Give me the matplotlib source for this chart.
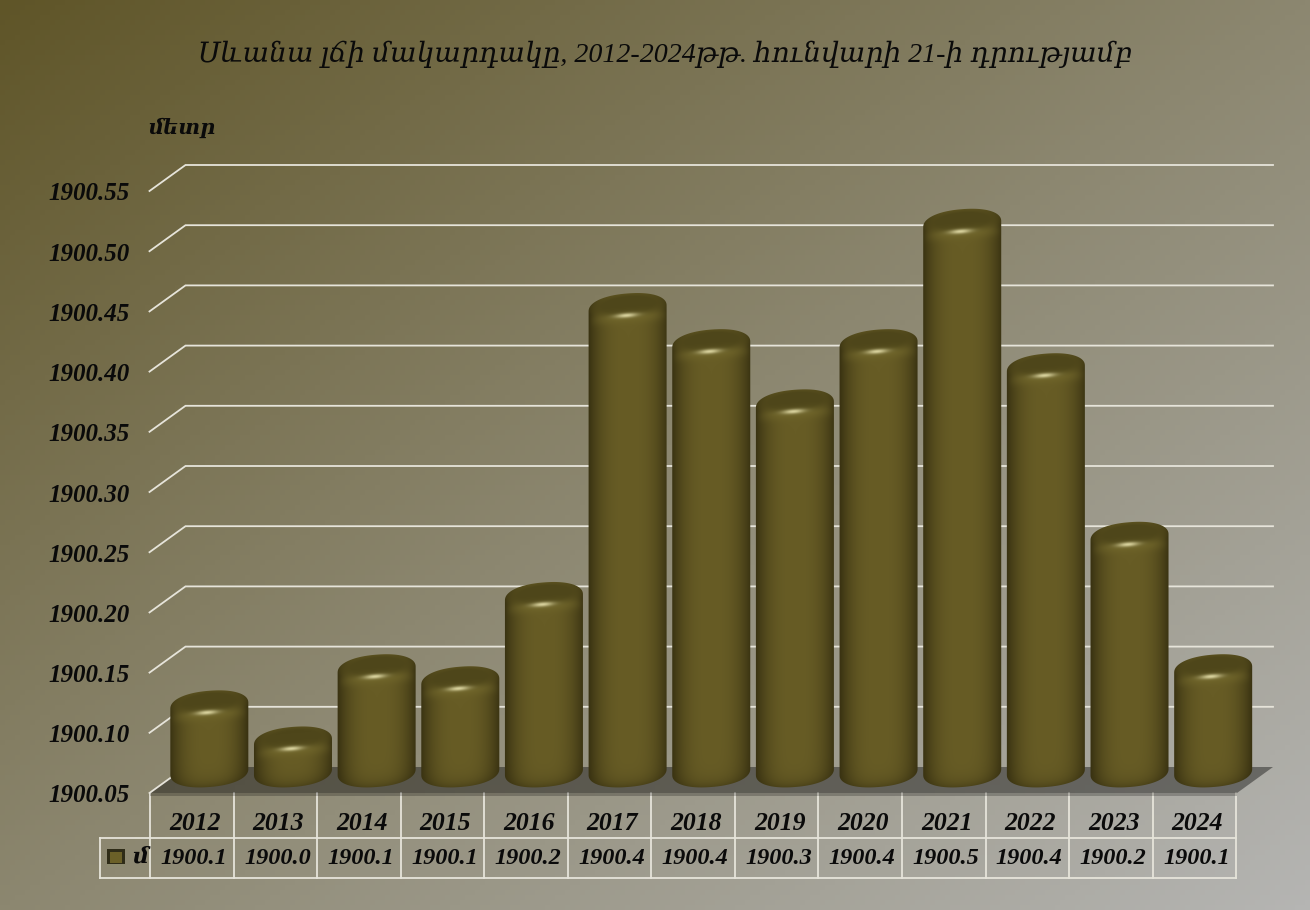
import numpy as np
import matplotlib
matplotlib.use("Agg")
import matplotlib.pyplot as plt
from matplotlib.colors import LinearSegmentedColormap, to_rgb
from matplotlib.patches import Polygon, PathPatch, Rectangle
from matplotlib.path import Path

years = ['2012', '2013', '2014', '2015', '2016', '2017', '2018', '2019', '2020', '2021', '2022', '2023', '2024']
levels = [1900.11, 1900.08, 1900.14, 1900.13, 1900.20, 1900.44, 1900.41, 1900.36, 1900.41, 1900.51, 1900.39, 1900.25, 1900.14]
table_row = ['1900.1', '1900.0', '1900.1', '1900.1', '1900.2', '1900.4', '1900.4', '1900.3', '1900.4', '1900.5', '1900.4', '1900.2', '1900.1']
y_ticks = [1900.05, 1900.10, 1900.15, 1900.20, 1900.25, 1900.30, 1900.35, 1900.40, 1900.45, 1900.50, 1900.55]

title = 'Սևանա լճի մակարդակը, 2012-2024թթ. հունվարի 21-ի դրությամբ'
unit_label = 'մետր'
series_name = 'մ'

W, H = 1310, 910
serif = ['Liberation Serif', 'DejaVu Serif']
line_col = '#e6e4da'

fig = plt.figure(figsize=(W / 100, H / 100), dpi=100)

# background, pixel coordinates
bg = fig.add_axes([0, 0, 1, 1])
bg.set_xlim(0, W)
bg.set_ylim(H, 0)
bg.axis('off')
cmap = LinearSegmentedColormap.from_list('bg', ['#5f5528', '#8c8770', '#b5b5b3'])
gx, gy = np.meshgrid(np.linspace(0, 1, 262), np.linspace(0, 1, 182))
bg.imshow((gx + gy) / 2, cmap=cmap, extent=(0, W, H, 0), aspect='auto', vmin=0, vmax=1, zorder=0)

# main axes: mid depth plane of the 3d box
left, right, bottom, top = 167.5, 1255.0, 780.0, 178.0
ax = fig.add_axes([left / W, 1 - bottom / H, (right - left) / W, (bottom - top) / H])
ax.patch.set_alpha(0)
ax.axis('off')
ax.set_xlim(-0.5, len(years) - 0.5)
ax.set_ylim(y_ticks[0], y_ticks[-1])

px_x = (len(years)) / (right - left)
px_y = (y_ticks[-1] - y_ticks[0]) / (bottom - top)
dx, dy = 18 * px_x, 13 * px_y
x0, x1 = -0.5, len(years) - 0.5

# floor
ax.add_patch(Polygon([(x0 - dx, y_ticks[0] - dy), (x0 + dx, y_ticks[0] + dy),
                      (x1 + dx, y_ticks[0] + dy), (x1 - dx, y_ticks[0] - dy)],
                     closed=True, facecolor='black', alpha=0.4, edgecolor='none', clip_on=False, zorder=1))
ax.add_patch(Rectangle((x0 - dx, y_ticks[0] - dy - 3 * px_y), x1 - x0, 3 * px_y, facecolor='black',
                       alpha=0.22, edgecolor='none', clip_on=False, zorder=1))

# grid lines on the side and back walls
for v in y_ticks:
    if v == y_ticks[0]:
        xs, ys = [x0 - dx, x0 + dx], [v - dy, v + dy]
    else:
        xs, ys = [x0 - dx, x0 + dx, x1 + dx], [v - dy, v + dy, v + dy]
    ax.plot(xs, ys, color=line_col, lw=1.3, clip_on=False, zorder=2, solid_joinstyle='miter')
    ax.annotate(f'{v:.2f}', xy=(x0 - dx, v - dy), xytext=(-20, -3), textcoords='offset pixels',
                ha='right', va='center', family=serif, style='italic', weight='bold', fontsize=18,
                color='#0a0a0a', annotation_clip=False)


def spow(a, p):
    return np.sign(a) * np.abs(a) ** p


def bar_outline(y_top, y_base, a=39.0, b=15.0, tilt=3.0, n=2.2):
    # outline in px relative to bar centre, y up
    t = np.linspace(0, np.pi, 80)
    tx = a * spow(np.cos(t), 2 / n)
    ty = y_top + b * spow(np.sin(t), 2 / n) + tilt * tx / a
    t2 = np.linspace(np.pi, 2 * np.pi, 80)
    bx = a * spow(np.cos(t2), 2 / n)
    by = y_base + b * spow(np.sin(t2), 2 / n) + tilt * bx / a
    return np.r_[tx, bx], np.r_[ty, by]


def bar_image(y_top, y_base, a=39.0, b=15.0, tilt=3.0, n=2.2):
    xs = np.arange(-41, 41.5, 0.5)
    ys = np.arange(y_top + 18, y_base - 18, -0.5)
    x, y = np.meshgrid(xs, ys)
    u = np.clip(np.abs(x) / a, 0, 1)
    dark = np.array(to_rgb('#3a3312'))
    light = np.array(to_rgb('#675c25'))
    prof = (1 - u ** 2.8)[..., None]
    img = dark + (light - dark) * prof
    yt = y - y_top - tilt * x / a
    # darker top surface
    d = (x / 36) ** 2 + ((yt - 3) / 12) ** 2
    w = np.clip((1.4 - d) / 0.9, 0, 1)[..., None]
    img = img * (1 - w) + np.array(to_rgb('#4e461a')) * w
    # lighter rim below it
    rim = np.exp(-((yt + 9) / 6) ** 2)[..., None] * (1 - u ** 4)[..., None] * 0.4
    img = img * (1 - rim) + np.array(to_rgb('#7a7030')) * rim
    # specular spot
    spot = np.exp(-((x + 2) / 11) ** 2 - ((yt + 7) / 2.3) ** 2)[..., None] * 0.85
    img = img * (1 - spot) + np.array(to_rgb('#efe9b4')) * spot
    # rounded foot
    yb = y_base - b * np.clip(1 - u ** n, 0, 1) ** (1 / n) + tilt * x / a
    foot = np.exp(-np.clip(y - yb, 0, None) / 7)[..., None] * 0.6
    img = img * (1 - foot) + dark * foot
    return img


# bars
for i, v in enumerate(levels):
    y_top = 2.0
    y_base = (y_ticks[0] - v) / px_y + 8
    ox, oy = bar_outline(y_top, y_base)
    verts = np.c_[i + ox * px_x, v + oy * px_y]
    clip = PathPatch(Path(np.r_[verts, verts[:1]], closed=True), facecolor='none', edgecolor='none',
                     clip_on=False, zorder=3)
    ax.add_patch(clip)
    im = ax.imshow(bar_image(y_top, y_base), origin='upper', aspect='auto', interpolation='bilinear', zorder=3,
                   extent=(i - 41 * px_x, i + 41 * px_x, v + (y_base - 18) * px_y, v + (y_top + 18) * px_y))
    im.set_clip_box(fig.bbox)
    im.set_clip_path(clip)

ax.set_xlim(-0.5, len(years) - 0.5)
ax.set_ylim(y_ticks[0], y_ticks[-1])

# data table
tbl_left, tbl_w = 150.0, 83.55
edges = [tbl_left + tbl_w * k for k in range(len(years) + 1)]
for k, e in enumerate(edges):
    bg.plot([e, e], [793, 878], color=line_col, lw=1.3, zorder=1)
bg.plot([100, 100], [838, 878], color=line_col, lw=1.3, zorder=1)
bg.plot([100, edges[-1]], [838, 838], color=line_col, lw=1.3, zorder=1)
bg.plot([100, edges[-1]], [878, 878], color=line_col, lw=1.3, zorder=1)
for i in range(len(years)):
    cx = tbl_left + tbl_w * (i + 0.5)
    bg.text(cx + 3, 824, years[i], ha='center', va='center', family=serif, style='italic',
            weight='bold', fontsize=18.5, color='#0a0a0a')
    bg.text(cx + 2, 859, table_row[i], ha='center', va='center', family=serif, style='italic',
            weight='bold', fontsize=17.5, color='#0a0a0a')

# legend key
bg.add_patch(Rectangle((107, 849), 18, 18, facecolor='#2f2c18', edgecolor='none', zorder=2))
bg.add_patch(Rectangle((110, 852), 12, 11, facecolor='#6b6028', edgecolor='none', zorder=3))
bg.add_patch(Rectangle((107, 864), 18, 3, facecolor='#8d8a70', edgecolor='none', zorder=3))
bg.text(140, 858, series_name, ha='center', va='center', family=serif, style='italic',
        weight='bold', fontsize=16, color='#0a0a0a')

bg.text(665, 54, title, ha='center', va='center', family=serif, style='italic', fontsize=20.2, color='#0a0a0a')
bg.text(148, 129, unit_label, ha='left', va='center', family=serif, style='italic', weight='bold',
        fontsize=15, color='#0a0a0a')

fig.savefig('out.png', dpi=100)
